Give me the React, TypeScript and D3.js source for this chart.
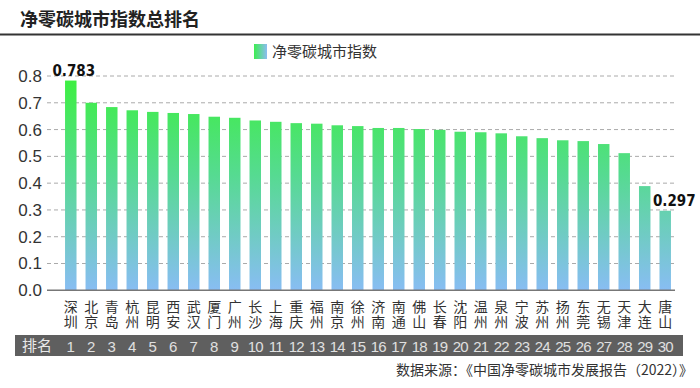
import React from 'react';
import * as d3 from 'd3';

// city names (two chars each, drawn stacked)
const cities = [
  '深圳', '北京', '青岛', '杭州', '昆明', '西安', '武汉', '厦门', '广州', '长沙',
  '上海', '重庆', '福州', '南京', '徐州', '济南', '南通', '佛山', '长春', '沈阳',
  '温州', '泉州', '宁波', '苏州', '扬州', '东莞', '无锡', '天津', '大连', '唐山',
];

// index values
const values = [
  0.783, 0.700, 0.684, 0.672, 0.666, 0.662, 0.658, 0.648, 0.644, 0.634,
  0.629, 0.624, 0.622, 0.616, 0.613, 0.606, 0.606, 0.602, 0.599, 0.592,
  0.590, 0.586, 0.575, 0.568, 0.560, 0.557, 0.546, 0.512, 0.389, 0.297,
];

const yTicks = [0, 0.1, 0.2, 0.3, 0.4, 0.5, 0.6, 0.7, 0.8];
const labelled = [0, 29]; // bars with a value on top

const title = '净零碳城市指数总排名';
const seriesName = '净零碳城市指数';
const rankLabel = '排名';
const source = '数据来源：《中国净零碳城市发展报告（2022）》';

export default function App() {
  const width = 700;
  const height = 388;
  const axisLeft = 47;
  const axisRight = 675;

  const x = d3.scaleBand<string>()
    .domain(cities)
    .range([47, 689])
    .paddingInner(0.44)
    .paddingOuter(0.88);

  const y = d3.scaleLinear()
    .domain([0, 0.8])
    .range([290.3, 76]);

  const fmt = d3.format('.1f');
  const cjk = '"Noto Sans CJK SC", "Liberation Sans", sans-serif';

  return (
    <svg
      width={width}
      height={height}
      style={{ position: 'absolute', left: 0, top: 0, background: '#fff' }}
    >
      <defs>
        <linearGradient id="barGrad" gradientUnits="userSpaceOnUse"
          x1={0} x2={0} y1={y(0.8)} y2={y(0)}>
          <stop offset="0" stopColor="#3cf03e" />
          <stop offset="0.45" stopColor="#55db8f" />
          <stop offset="1" stopColor="#88bdf3" />
        </linearGradient>
        <linearGradient id="legGrad" x1="0" x2="1" y1="0" y2="0">
          <stop offset="0" stopColor="#3ded52" />
          <stop offset="1" stopColor="#8cbcf2" />
        </linearGradient>
      </defs>

      {/* title */}
      <text x={20} y={26} fontFamily={cjk} fontWeight="bold" fontSize={18} fill="#222">
        {title}
      </text>
      <line x1={0} x2={width} y1={34.5} y2={34.5} stroke="#333" strokeWidth={2} />

      {/* legend */}
      <rect x={254} y={44} width={13} height={15} fill="url(#legGrad)" />
      <text x={272} y={57} fontFamily={cjk} fontSize={15} fill="#333">{seriesName}</text>

      {/* grid + y ticks */}
      {yTicks.map(t => (
        <g key={t}>
          {t > 0 && (
            <line x1={axisLeft} x2={axisRight} y1={y(t)} y2={y(t)}
              stroke="#aaa" strokeWidth={1} strokeDasharray="4,3" />
          )}
          <text x={42} y={y(t)} dy="0.35em" textAnchor="end"
            fontFamily='"Liberation Sans", Arial, sans-serif' fontSize={17} fill="#333">
            {fmt(t)}
          </text>
        </g>
      ))}

      {/* bars */}
      {values.map((v, i) => (
        <rect key={cities[i]}
          x={x(cities[i])}
          y={y(v)}
          width={x.bandwidth()}
          height={y(0) - y(v)}
          fill="url(#barGrad)" />
      ))}

      {labelled.map(i => (
        <text key={'v' + i}
          x={(x(cities[i]) as number) + x.bandwidth() / 2 + (i === 0 ? 3 : 9)}
          y={y(values[i]) - 5}
          textAnchor="middle"
          fontFamily='"Liberation Sans Narrow", "DejaVu Sans Condensed", sans-serif'
          fontWeight="bold" fontSize={15} fill="#111">
          {values[i].toFixed(3)}
        </text>
      ))}

      {/* x axis line */}
      <line x1={axisLeft} x2={axisRight} y1={y(0)} y2={y(0)} stroke="#777" strokeWidth={1.5} />

      {/* city names, written top to bottom */}
      {cities.map(c => (
        <text key={'c' + c}
          x={(x(c) as number) + x.bandwidth() / 2}
          y={300}
          style={{ writingMode: 'vertical-rl' }}
          letterSpacing={0.5}
          fontFamily={cjk} fontSize={14} fill="#333">
          {c}
        </text>
      ))}

      {/* rank band */}
      <rect x={15} y={335} width={668} height={21} fill="#5f5f5f" />
      <text x={22} y={351} fontFamily={cjk} fontSize={15} fill="#e8e8e8">{rankLabel}</text>
      {cities.map((c, i) => (
        <text key={'r' + c}
          x={(x(c) as number) + x.bandwidth() / 2}
          y={351.5}
          textAnchor="middle"
          fontFamily='"Liberation Sans", Arial, sans-serif'
          fontSize={15} fill="#e0e0e0"
          letterSpacing={i >= 9 ? -0.8 : 0}>
          {i + 1}
        </text>
      ))}

      {/* source */}
      <text x={693} y={375} textAnchor="end" fontFamily={cjk} fontSize={14} fill="#333">
        {source}
      </text>
    </svg>
  );
}
